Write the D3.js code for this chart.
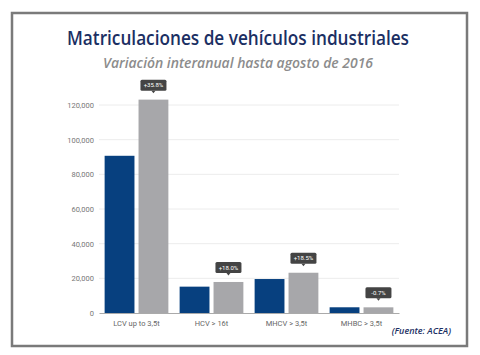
<!DOCTYPE html>
<html><head><meta charset="utf-8">
<script src="https://cdn.jsdelivr.net/npm/d3@7"></script>
<style>body{margin:0;background:#fff}svg{display:block}</style>
</head><body><svg id="c" width="480" height="355"></svg>
<script>
const categories = ["LCV up to 3,5t", "HCV > 16t", "MHCV > 3,5t", "MHBC > 3,5t"];
const prevYear = [90700, 15200, 19600, 3300];
const currYear = [123100, 17900, 23230, 3277];
const changeLabels = ["+35.8%", "+18.0%", "+18.5%", "-0.7%"];
const yTicks = [0, 20000, 40000, 60000, 80000, 100000, 120000];
const titleText = "Matriculaciones de vehículos industriales";
const subtitleText = "Variación interanual hasta agosto de 2016";
const sourceText = "(Fuente: ACEA)";

const svg = d3.select("#c");
const font = "Roboto, 'Open Sans', sans-serif";

svg.append("rect").attr("x", 12).attr("y", 13).attr("width", 455).attr("height", 333)
  .attr("fill", "#fff").attr("stroke", "#7a7a7a").attr("stroke-width", 2.5);

svg.append("text").attr("x", 238).attr("y", 45).attr("text-anchor", "middle")
  .attr("font-family", "'Open Sans', sans-serif").attr("font-size", 20).attr("font-weight", 600).attr("fill", "#1b2f63")
  .attr("textLength", 342).attr("lengthAdjust", "spacingAndGlyphs")
  .text(titleText);
svg.append("text").attr("x", 238).attr("y", 68).attr("text-anchor", "middle")
  .attr("font-family", "'Open Sans', sans-serif").attr("font-size", 15).attr("font-style", "italic").attr("font-weight", 600)
  .attr("fill", "#8c8c8c").attr("textLength", 270).attr("lengthAdjust", "spacingAndGlyphs")
  .text(subtitleText);

const x0 = d3.scaleBand().domain(categories).range([99, 399]).paddingInner(0.15).paddingOuter(0.075);
const x1 = d3.scaleBand().domain(["prev", "curr"]).range([0, x0.bandwidth()]).paddingInner(0.12);
const y = d3.scaleLinear().domain([0, 120000]).range([313, 105]);

const g = svg.append("g");
g.selectAll(".grid").data(yTicks.filter(d => d > 0)).join("line")
  .attr("x1", 99).attr("x2", 399).attr("y1", d => y(d)).attr("y2", d => y(d))
  .attr("stroke", "#ececec").attr("stroke-width", 1);

const yAxis = d3.axisLeft(y).tickValues(yTicks).tickSize(0).tickPadding(5)
  .tickFormat(d3.format(","));
const ya = g.append("g").attr("transform", "translate(99,0)").call(yAxis);
ya.select(".domain").remove();
ya.selectAll("text").attr("font-family", font).attr("font-size", 7.5).attr("fill", "#777");

const data = categories.map((c, i) => ({c, prev: prevYear[i], curr: currYear[i], lab: changeLabels[i]}));
const grp = g.selectAll(".grp").data(data).join("g").attr("transform", d => `translate(${x0(d.c)},0)`);
grp.append("rect").attr("x", x1("prev")).attr("width", x1.bandwidth())
  .attr("y", d => y(d.prev)).attr("height", d => y(0) - y(d.prev)).attr("fill", "#07407f");
grp.append("rect").attr("x", x1("curr")).attr("width", x1.bandwidth())
  .attr("y", d => y(d.curr)).attr("height", d => y(0) - y(d.curr)).attr("fill", "#a7a7aa");

const tip = grp.append("g").attr("transform", d => `translate(${x1("curr") + x1.bandwidth() / 2},${y(d.curr) - 9})`);
tip.append("rect").attr("x", -13).attr("y", -11).attr("width", 26).attr("height", 11).attr("rx", 1.5).attr("fill", "#444");
tip.append("path").attr("d", "M-2,0 L2,0 L0,2.5 Z").attr("fill", "#444");
tip.append("text").attr("y", -3.3).attr("text-anchor", "middle").attr("font-family", font)
  .attr("font-size", 6).attr("fill", "#fff").text(d => d.lab);

const xAxis = d3.axisBottom(x0).tickSize(0).tickPadding(8);
const xa = g.append("g").attr("transform", "translate(0,313)").call(xAxis);
xa.select(".domain").attr("stroke", "#aaa").attr("stroke-width", 1.2);
xa.selectAll("text").attr("font-family", font).attr("font-size", 7.5).attr("fill", "#666");

svg.append("text").attr("x", 451).attr("y", 334).attr("text-anchor", "end")
  .attr("font-family", "'Open Sans', sans-serif").attr("font-size", 9).attr("font-style", "italic").attr("font-weight", 600)
  .attr("fill", "#1b2f63").text(sourceText);
</script></body></html>
